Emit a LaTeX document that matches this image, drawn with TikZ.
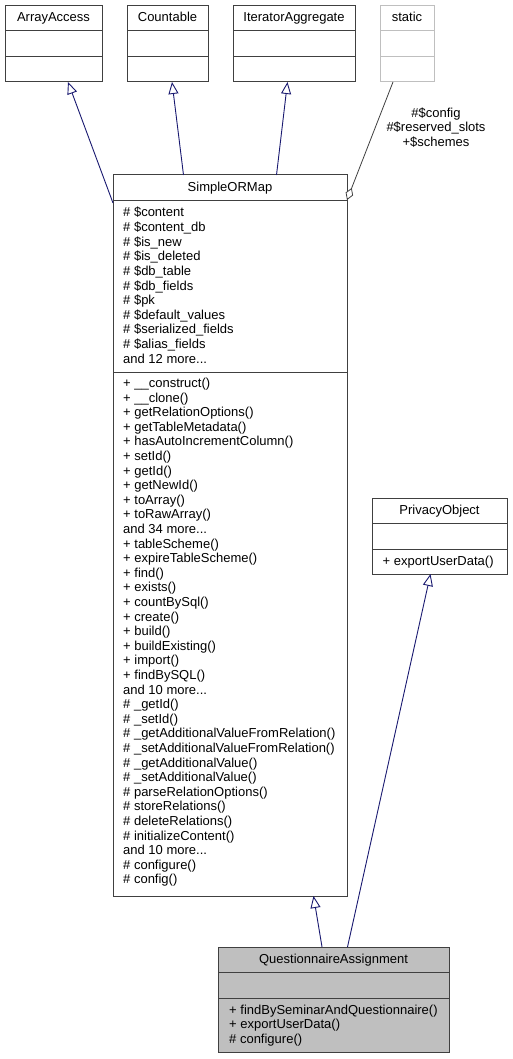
\documentclass[tikz,border=0pt]{standalone}
\usepackage{fontspec}
\setmainfont{Liberation Sans}
\usetikzlibrary{arrows.meta}
\definecolor{edgeblue}{HTML}{191970}
\definecolor{bord}{HTML}{404040}
\definecolor{lightgray}{HTML}{BFBFBF}
\newcommand\andmorelines[1]{and #1 more...}
\begin{document}
\begin{tikzpicture}[x=1pt,y=-1pt,
  box/.style={draw=bord, line width=1pt, rectangle, anchor=north west, inner sep=0pt, outer sep=0pt},
  ghost/.style={box, draw=lightgray},
  sep/.style={draw=bord, line width=1pt},
  ghostsep/.style={draw=lightgray, line width=1pt},
  txt/.style={font=\fontsize{13}{14.6}\selectfont, inner sep=0pt, text=black},
  title/.style={txt, anchor=base},
  member/.style={txt, anchor=base west},
  inh/.style={draw=edgeblue, line width=0.9pt, -{Triangle[open, length=12pt, width=10pt, fill=white]}},
  agg/.style={draw=bord, line width=0.8pt, -{Diamond[open, length=13pt, width=8pt, fill=white]}}
]
\useasboundingbox (0,0) rectangle (512,1059);

% ---------- top classes ----------
\node[box, minimum width=97pt, minimum height=76pt] (aa) at (5,6) {};
\draw[sep] (5,31) -- (102,31) (5,57) -- (102,57);
\node[title] (aat) at (53.5,21.5) {ArrayAccess};

\node[box, minimum width=81pt, minimum height=76pt] (cn) at (127,6) {};
\draw[sep] (127,31) -- (208,31) (127,57) -- (208,57);
\node[title] (cnt) at (167.5,21.5) {Countable};

\node[box, minimum width=122pt, minimum height=76pt] (ia) at (233,6) {};
\draw[sep] (233,31) -- (355,31) (233,57) -- (355,57);
\node[title] (iat) at (294,21.5) {IteratorAggregate};

\node[ghost, minimum width=54pt, minimum height=76pt] (st) at (380,6) {};
\draw[ghostsep] (380,31) -- (434,31) (380,57) -- (434,57);
\node[title] (stt) at (407,21.5) {static};

% ---------- SimpleORMap ----------
\node[box, fill=white, minimum width=234pt, minimum height=721pt] (smo) at (113,175) {};
\draw[sep] (113,201) -- (347,201) (113,372) -- (347,372);
\node[title] (smot) at (230,191.5) {SimpleORMap};

\foreach \t [count=\i] in {
  {\#~\$content}, {\#~\$content\_db}, {\#~\$is\_new}, {\#~\$is\_deleted},
  {\#~\$db\_table}, {\#~\$db\_fields}, {\#~\$pk}, {\#~\$default\_values},
  {\#~\$serialized\_fields}, {\#~\$alias\_fields}, {\andmorelines{12}}}
  \node[member] (smoa\i) at (123, {217+14.6*(\i-1)}) {\t};

\foreach \t [count=\i] in {
  {+ \_\_construct()}, {+ \_\_clone()}, {+ getRelationOptions()}, {+ getTableMetadata()},
  {+ hasAutoIncrementColumn()}, {+ setId()}, {+ getId()}, {+ getNewId()}, {+ toArray()},
  {+ toRawArray()}, {\andmorelines{34}}, {+ tableScheme()}, {+ expireTableScheme()},
  {+ find()}, {+ exists()}, {+ countBySql()}, {+ create()}, {+ build()}, {+ buildExisting()},
  {+ import()}, {+ findBySQL()}, {\andmorelines{10}}, {\#~\_getId()}, {\#~\_setId()},
  {\#~\_getAdditionalValueFromRelation()}, {\#~\_setAdditionalValueFromRelation()},
  {\#~\_getAdditionalValue()}, {\#~\_setAdditionalValue()}, {\#~parseRelationOptions()},
  {\#~storeRelations()}, {\#~deleteRelations()}, {\#~initializeContent()},
  {\andmorelines{10}}, {\#~configure()}, {\#~config()}}
  \node[member] (smom\i) at (123, {387.5+14.6*(\i-1)}) {\t};

% ---------- PrivacyObject ----------
\node[box, fill=white, minimum width=135pt, minimum height=76pt] (po) at (372,498) {};
\draw[sep] (372,523) -- (507,523) (372,549) -- (507,549);
\node[title] (pot) at (439.5,514) {PrivacyObject};
\node[member] (pom1) at (382.5,565) {+ exportUserData()};

% ---------- QuestionnaireAssignment ----------
\node[box, fill=lightgray, minimum width=231pt, minimum height=105pt] (qa) at (218,947) {};
\draw[sep] (218,972) -- (449,972) (218,998) -- (449,998);
\node[title] (qat) at (333.5,963) {QuestionnaireAssignment};
\node[member] (qam1) at (229,1014) {+ findBySeminarAndQuestionnaire()};
\node[member] (qam2) at (229,1028.6) {+ exportUserData()};
\node[member] (qam3) at (229,1043.2) {\#~configure()};

% ---------- connector end points ----------
\coordinate (aa-in) at (68,82);
\coordinate (cn-in) at (172,82);
\coordinate (ia-in) at (287.5,82);
\coordinate (st-out) at (393,82);
\coordinate (smo-aa) at (113,203);
\coordinate (smo-cn) at (183.5,175);
\coordinate (smo-ia) at (276.5,175);
\coordinate (smo-st) at (347,200);
\coordinate (smo-in) at (313.5,896);
\coordinate (po-in) at (430.5,574);
\coordinate (qa-smo) at (322,947);
\coordinate (qa-po) at (347.5,947);

\draw[inh] (smo-aa) -- (aa-in);
\draw[inh] (smo-cn) -- (cn-in);
\draw[inh] (smo-ia) -- (ia-in);
\draw[agg] (st-out) -- (smo-st);
\draw[inh] (qa-smo) -- (smo-in);
\draw[inh] (qa-po) -- (po-in);

% ---------- aggregation label ----------
\node[title] (lb1) at (436,117.5) {\#\$config};
\node[title] (lb2) at (436,132) {\#\$reserved\_slots};
\node[title] (lb3) at (436,146.5) {+\$schemes};
\end{tikzpicture}
\end{document}
